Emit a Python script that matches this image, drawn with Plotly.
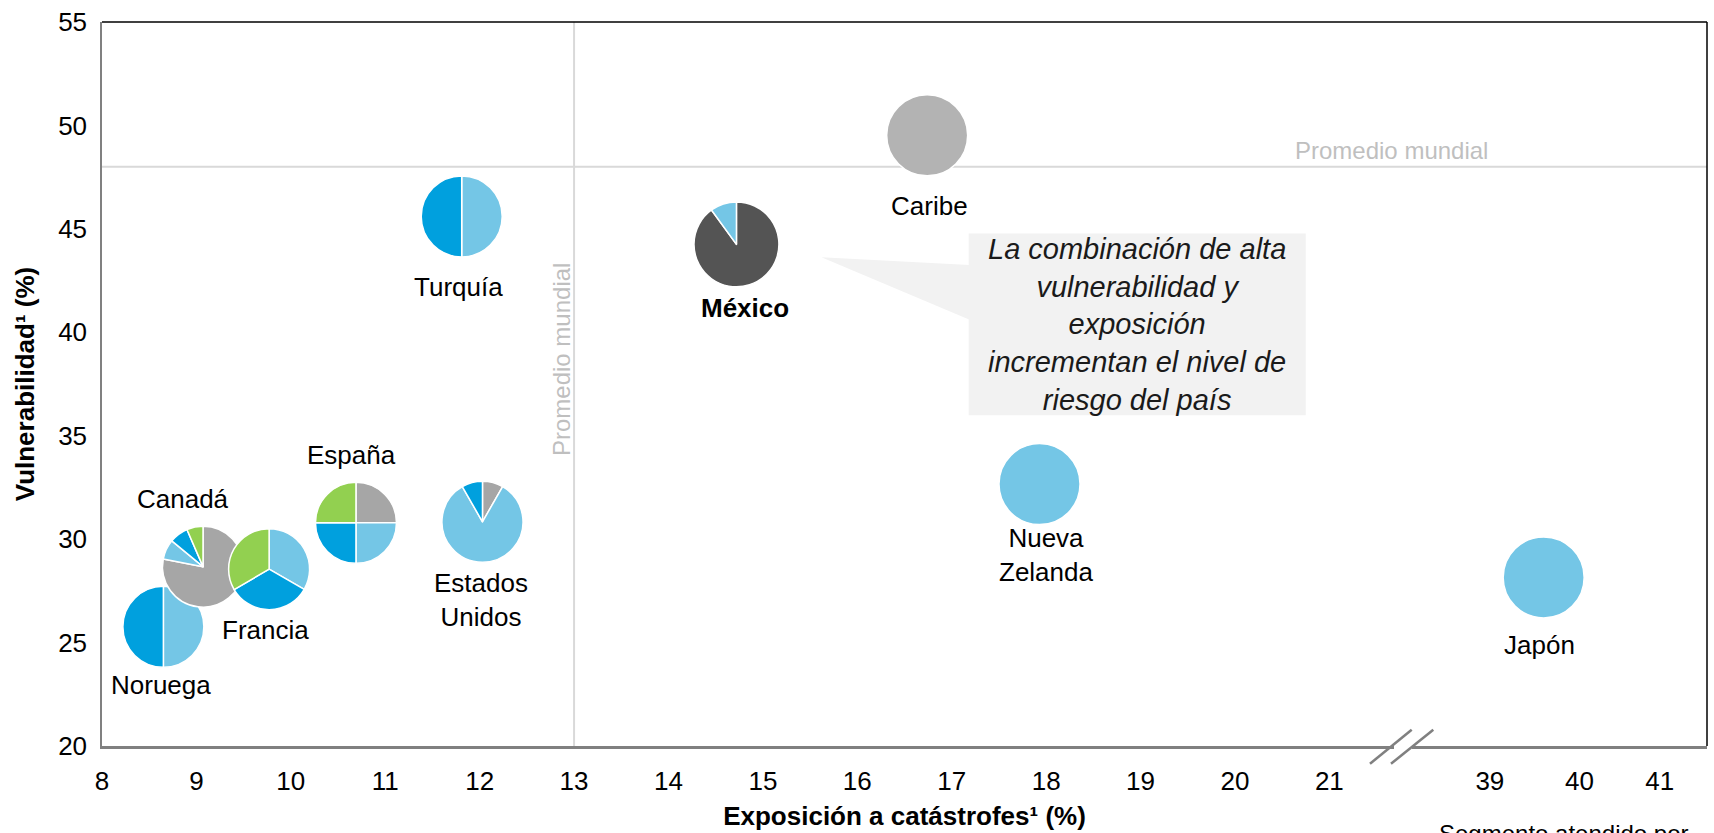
import numpy as np
import plotly.graph_objects as go

# ---------------- data ----------------
countries = ["Noruega", "Canadá", "Francia", "España", "Estados Unidos",
             "Turquía", "México", "Caribe", "Nueva Zelanda", "Japón"]
label_text = ["Noruega", "Canadá", "Francia", "España", "Estados<br>Unidos",
              "Turquía", "<b>México</b>", "Caribe", "Nueva<br>Zelanda", "Japón"]
exposure = [8.65, 9.07, 9.77, 10.69, 12.03, 11.81, 14.72, 16.74, 17.93, 39.6]
vulnerability = [25.76, 28.67, 28.55, 30.79, 30.84, 45.6, 44.25, 49.52, 32.66, 28.15]

# pie composition (%), slices drawn clockwise from 12 o'clock in this order
segment_names = ["Tipo A", "Tipo B", "Tipo C", "Tipo D", "Tipo E", "Tipo F"]
share_a = [0, 0, 0, 0, 0, 0, 0, 100, 0, 0]          # light grey
share_b = [0, 78, 0, 25, 8.3, 0, 0, 0, 0, 0]        # grey
share_c = [0, 0, 0, 0, 0, 0, 90, 0, 0, 0]           # dark grey
share_d = [50, 8, 33.3, 25, 83.4, 50, 10, 0, 100, 100]  # light blue
share_e = [50, 7.5, 33.3, 25, 8.3, 50, 0, 0, 0, 0]  # blue
share_f = [0, 6.5, 33.4, 25, 0, 0, 0, 0, 0, 0]      # green

world_avg_exposure = 13
world_avg_vulnerability = 48

x_ticks_low = list(range(8, 22))
x_ticks_high = [39, 40, 41]
y_ticks = [20, 25, 30, 35, 40, 45, 50, 55]

# ---------------- styling / layout ----------------
segment_colors = ["#B3B3B3", "#A6A6A6", "#545454", "#74C6E6", "#00A0DE", "#92D050"]
x_ticks_high_pos = [22.7, 23.65, 24.5]   # where the broken-axis segment sits

def to_axis(v):
    return v if v < 30 else float(np.interp(v, x_ticks_high, x_ticks_high_pos))

W, H = 1714, 833
ML, MR, MT, MB = 102, 7, 20, 80
PW, PH = W - ML - MR, H - MT - MB
XR = [8, 25]
YR = [20, 55]
FONT = "Liberation Sans, Arial, sans-serif"

def py(ypx):  # page pixel row -> paper fraction
    return (MT + PH - ypx) / PH

def px(xpx):  # page pixel column -> paper fraction
    return (xpx - ML) / PW

pie_radius = {"México": 43}
label_offsets = {  # px (dx right, dy down) from pie centre
    "Noruega": (-2, 58), "Canadá": (-20, -68), "Francia": (-4, 61),
    "España": (-4, -68), "Estados Unidos": (-1, 78), "Turquía": (-3, 71),
    "México": (9, 64), "Caribe": (2, 71), "Nueva Zelanda": (6, 71), "Japón": (-4, 68),
}

fig = go.Figure()

# world-average reference lines
fig.add_trace(go.Scatter(x=[XR[0], XR[1]], y=[world_avg_vulnerability] * 2, mode="lines",
                         line=dict(color="#D9D9D9", width=2), hoverinfo="skip", showlegend=False))
fig.add_trace(go.Scatter(x=[world_avg_exposure] * 2, y=[YR[0], YR[1]], mode="lines",
                         line=dict(color="#D9D9D9", width=2), hoverinfo="skip", showlegend=False))

shares = [share_a, share_b, share_c, share_d, share_e, share_f]
annotations = []
for i, c in enumerate(countries):
    R = pie_radius.get(c, 41)
    xa = to_axis(exposure[i])
    xp = (xa - XR[0]) / (XR[1] - XR[0])
    yp = (vulnerability[i] - YR[0]) / (YR[1] - YR[0])
    vals, names, cols = [], [], []
    for k in range(len(shares)):
        if shares[k][i] > 0:
            vals.append(shares[k][i]); names.append(segment_names[k]); cols.append(segment_colors[k])
    fig.add_trace(go.Pie(
        values=vals, labels=names, name=c, sort=False, direction="clockwise", rotation=0,
        textinfo="none", showlegend=False,
        marker=dict(colors=cols, line=dict(color="white", width=1.5)),
        domain=dict(x=[xp - R / PW, xp + R / PW], y=[yp - R / PH, yp + R / PH]),
    ))
    dx, dy = label_offsets[c]
    annotations.append(dict(x=xa, y=vulnerability[i], xref="x", yref="y", text=label_text[i],
                            showarrow=False, xanchor="center", yanchor="middle",
                            xshift=dx, yshift=-dy, font=dict(size=26, color="#000000", family=FONT)))

# world average labels
annotations.append(dict(x=21.66, y=48.8, xref="x", yref="y", text="Promedio mundial", showarrow=False,
                        font=dict(size=24, color="#BFBFBF", family=FONT)))
annotations.append(dict(x=12.86, y=38.7, xref="x", yref="y", text="Promedio mundial", showarrow=False,
                        textangle=-90, font=dict(size=24, color="#BFBFBF", family=FONT)))

# callout text
annotations.append(dict(x=18.965, y=40.385, xref="x", yref="y",
                        text="La combinación de alta<br>vulnerabilidad y<br>exposición<br>incrementan el nivel de<br>riesgo del país",
                        showarrow=False, align="center",
                        font=dict(size=29, color="#1A1A1A", family=FONT, style="italic")))

# footer note (runs past the bottom edge, as in the source)
annotations.append(dict(x=px(1437), y=py(826), xref="paper", yref="paper",
                        text="Segmento atendido por", showarrow=False, xanchor="left", yanchor="top",
                        font=dict(size=24, color="#000000", family=FONT)))

shapes = [
    # callout box and pointer
    dict(type="rect", xref="x", yref="y", x0=17.18, x1=20.75, y0=35.99, y1=44.78,
         fillcolor="#F2F2F2", line=dict(width=0), layer="below"),
    dict(type="path", xref="x", yref="y", path="M 15.62,43.63 L 17.19,43.25 L 17.19,40.61 Z",
         fillcolor="#F2F2F2", line=dict(width=0), layer="below"),
    # top and right frame
    dict(type="line", xref="paper", yref="paper", x0=0, x1=1, y0=1, y1=1,
         line=dict(color="#000000", width=1.5)),
    dict(type="line", xref="paper", yref="paper", x0=1, x1=1, y0=0, y1=1,
         line=dict(color="#000000", width=1.5)),
    # axis break
    dict(type="line", xref="paper", yref="paper", x0=px(1394), x1=px(1412),
         y0=py(MT + PH + 1.2), y1=py(MT + PH + 1.2), line=dict(color="#FFFFFF", width=4)),
    dict(type="line", xref="paper", yref="paper", x0=px(1370), x1=px(1411.7),
         y0=py(MT + PH + 18), y1=py(MT + PH - 16.5), line=dict(color="#808080", width=2.5)),
    dict(type="line", xref="paper", yref="paper", x0=px(1391), x1=px(1433.3),
         y0=py(MT + PH + 18), y1=py(MT + PH - 16.5), line=dict(color="#808080", width=2.5)),
]

fig.update_layout(
    width=W, height=H, margin=dict(l=ML, r=MR, t=MT, b=MB, pad=0),
    paper_bgcolor="white", plot_bgcolor="white",
    font=dict(family=FONT, color="#000000"),
    annotations=annotations, shapes=shapes, showlegend=False,
    xaxis=dict(range=XR, tickvals=x_ticks_low + x_ticks_high_pos,
               ticktext=[str(v) for v in x_ticks_low + x_ticks_high],
               showgrid=False, zeroline=False, ticks="", showline=True,
               linecolor="#808080", linewidth=2.5, tickfont=dict(size=26, color="#000000"),
               ticklabelstandoff=10,
               title=dict(text="<b>Exposición a catástrofes¹ (%)</b>", font=dict(size=26, color="#000000"),
                          standoff=12)),
    yaxis=dict(range=YR, tickvals=y_ticks, showgrid=False, zeroline=False, ticks="",
               showline=True, linecolor="#808080", linewidth=1.5,
               tickfont=dict(size=26, color="#000000"), ticklabelstandoff=8,
               title=dict(text="<b>Vulnerabilidad¹ (%)</b>", font=dict(size=26, color="#000000"),
                          standoff=16)),
)

fig.write_html("out.html")
